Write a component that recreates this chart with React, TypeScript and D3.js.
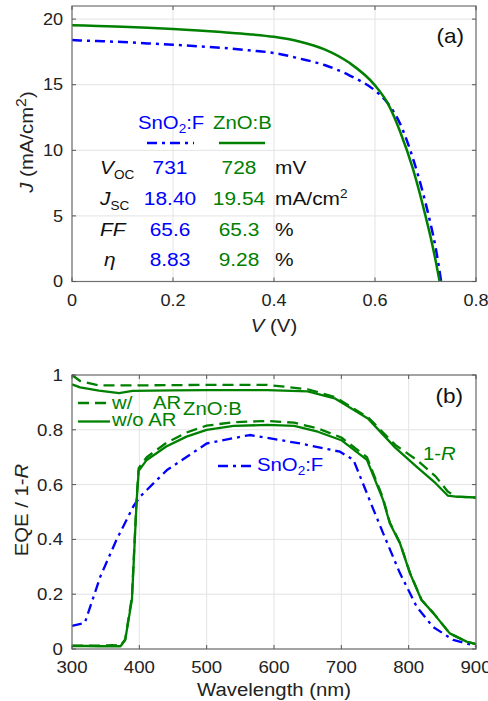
import { useEffect, useRef } from "react";
import * as d3 from "d3";

// panel (a): J-V curves
const jvVoltsZnO = [0, 0.05, 0.1, 0.15, 0.2, 0.25, 0.3, 0.35, 0.4, 0.45, 0.5, 0.55, 0.6, 0.625, 0.65, 0.675, 0.7, 0.71, 0.72, 0.728];
const jvCurrentZnO = [19.54, 19.48, 19.42, 19.34, 19.25, 19.14, 19.0, 18.85, 18.65, 18.3, 17.7, 16.65, 14.95, 13.6, 11.4, 8.6, 5.0, 3.4, 1.6, 0];
const jvVoltsSnO = [0, 0.05, 0.1, 0.15, 0.2, 0.25, 0.3, 0.35, 0.4, 0.45, 0.5, 0.55, 0.6, 0.625, 0.65, 0.675, 0.7, 0.71, 0.72, 0.731];
const jvCurrentSnO = [18.4, 18.33, 18.25, 18.15, 18.05, 17.93, 17.8, 17.62, 17.42, 17.0, 16.5, 15.7, 14.55, 13.6, 12.0, 9.4, 6.0, 4.4, 2.6, 0];

const tableRows = ["VOC", "JSC", "FF", "eta"];
const tableSnO = ["731", "18.40", "65.6", "8.83"];
const tableZnO = ["728", "19.54", "65.3", "9.28"];
const tableUnits = ["mV", "mA/cm²", "%", "%"];

// panel (b): EQE and 1-R
const rWave = [300, 312, 340, 370, 390, 450, 500, 590, 650, 690, 740, 780, 812, 840, 858, 870, 900];
const oneMinusRAR = [1.0, 0.978, 0.962, 0.962, 0.962, 0.963, 0.964, 0.964, 0.948, 0.92, 0.845, 0.745, 0.69, 0.63, 0.575, 0.556, 0.553];
const oneMinusRNoAR = [0.966, 0.955, 0.943, 0.934, 0.942, 0.944, 0.945, 0.945, 0.94, 0.915, 0.84, 0.735, 0.665, 0.605, 0.56, 0.556, 0.553];

const eqeWave = [300, 320, 340, 360, 372, 379, 389, 396, 399, 411, 440, 470, 500, 540, 590, 630, 665, 700, 738, 762, 772, 787, 802, 819, 837, 861, 886, 900];
const eqeZnONoAR = [0.011, 0.011, 0.01, 0.01, 0.01, 0.033, 0.18, 0.54, 0.65, 0.69, 0.739, 0.775, 0.8, 0.814, 0.818, 0.814, 0.793, 0.762, 0.69, 0.544, 0.459, 0.386, 0.276, 0.179, 0.13, 0.057, 0.027, 0.018];
const eqeZnOAR = [0.012, 0.012, 0.012, 0.014, 0.012, 0.035, 0.19, 0.55, 0.66, 0.7, 0.752, 0.79, 0.815, 0.828, 0.832, 0.826, 0.805, 0.772, 0.7, 0.55, 0.462, 0.388, 0.278, 0.18, 0.13, 0.057, 0.027, 0.018];

const eqeWaveSnO = [300, 319, 342, 366, 391, 401, 441, 500, 564, 639, 698, 718, 748, 762, 787, 812, 836, 866, 900];
const eqeSnO = [0.084, 0.095, 0.264, 0.398, 0.52, 0.556, 0.653, 0.75, 0.781, 0.75, 0.72, 0.69, 0.507, 0.423, 0.277, 0.154, 0.081, 0.033, 0.011];

const aTicksX = [0, 0.2, 0.4, 0.6, 0.8];
const aTicksY = [0, 5, 10, 15, 20];
const bTicksX = [300, 400, 500, 600, 700, 800, 900];
const bTicksY = [0, 0.2, 0.4, 0.6, 0.8, 1];

const GREEN = "#008000";
const BLUE = "#0000ff";
const FONT = "'Liberation Sans', Arial, sans-serif";
const DASHDOT = "10,5,3,5";
const DASH = "11,6";
const SX = 1.13; // the original's font is a bit wider than Arial

export default function App() {
  const ref = useRef<SVGSVGElement>(null);

  useEffect(() => {
    const svg = d3.select(ref.current);
    svg.selectAll("*").remove();

    const left = 72, right = 476;

    // text with a slight horizontal stretch
    const txt = (parent: any, x: number, y: number, size: number, anchor = "start", fill = "#222", rot = 0) =>
      parent.append("text")
        .attr("transform", `translate(${x},${y}) rotate(${rot}) scale(${SX},1)`)
        .attr("font-size", size).attr("font-family", FONT)
        .attr("text-anchor", anchor).attr("fill", fill);

    function grid(x: any, y: any, top: number, bottom: number, tx: number[], ty: number[]) {
      const g = svg.append("g");
      tx.forEach(t => g.append("line").attr("x1", x(t)).attr("x2", x(t)).attr("y1", top).attr("y2", bottom)
        .attr("stroke", "#e3e3e3").attr("stroke-width", 1));
      ty.forEach(t => g.append("line").attr("x1", left).attr("x2", right).attr("y1", y(t)).attr("y2", y(t))
        .attr("stroke", "#e3e3e3").attr("stroke-width", 1));
    }

    function box(x: any, y: any, top: number, bottom: number, tx: number[], ty: number[], fs: number, labelY: number) {
      const g = svg.append("g");
      g.append("rect").attr("x", left).attr("y", top).attr("width", right - left).attr("height", bottom - top)
        .attr("fill", "none").attr("stroke", "#707070").attr("stroke-width", 1.2);
      tx.forEach(t => {
        g.append("line").attr("x1", x(t)).attr("x2", x(t)).attr("y1", bottom).attr("y2", bottom - 4).attr("stroke", "#555");
        g.append("line").attr("x1", x(t)).attr("x2", x(t)).attr("y1", top).attr("y2", top + 4).attr("stroke", "#555");
        txt(g, x(t), labelY, fs, "middle").text(String(t));
      });
      ty.forEach(t => {
        g.append("line").attr("x1", left).attr("x2", left + 4).attr("y1", y(t)).attr("y2", y(t)).attr("stroke", "#555");
        g.append("line").attr("x1", right).attr("x2", right - 4).attr("y1", y(t)).attr("y2", y(t)).attr("stroke", "#555");
        txt(g, left - 9, y(t) + fs * 0.36, fs, "end").text(String(t));
      });
    }

    // ---------- panel (a) ----------
    const aTop = 6, aBottom = 281.5;
    const xa = d3.scaleLinear().domain([0, 0.8]).range([left, right]);
    const ya = d3.scaleLinear().domain([0, 21]).range([aBottom, aTop]);
    grid(xa, ya, aTop, aBottom, aTicksX, aTicksY);

    const lineA = d3.line<[number, number]>().x(d => xa(d[0])).y(d => ya(d[1])).curve(d3.curveMonotoneX);
    svg.append("path").attr("d", lineA(d3.zip(jvVoltsSnO, jvCurrentSnO) as [number, number][]))
      .attr("fill", "none").attr("stroke", BLUE).attr("stroke-width", 2.5).attr("stroke-dasharray", DASHDOT);
    svg.append("path").attr("d", lineA(d3.zip(jvVoltsZnO, jvCurrentZnO) as [number, number][]))
      .attr("fill", "none").attr("stroke", GREEN).attr("stroke-width", 2.5);

    box(xa, ya, aTop, aBottom, aTicksX, aTicksY, 16, 306);

    // table inside panel (a)
    const ta = svg.append("g");
    const sn = txt(ta, 138, 129, 18, "start", BLUE);
    sn.append("tspan").text("SnO");
    sn.append("tspan").attr("font-size", 12).attr("dy", 4).text("2");
    sn.append("tspan").attr("dy", -4).text(":F");
    txt(ta, 213, 129, 18, "start", GREEN).text("ZnO:B");
    ta.append("line").attr("x1", 147).attr("x2", 194).attr("y1", 143).attr("y2", 143)
      .attr("stroke", BLUE).attr("stroke-width", 2.5).attr("stroke-dasharray", DASHDOT);
    ta.append("line").attr("x1", 219).attr("x2", 265).attr("y1", 143).attr("y2", 143)
      .attr("stroke", GREEN).attr("stroke-width", 2.5);

    const rowY = [174, 205, 236, 266];
    tableRows.forEach((r, i) => {
      const t = txt(ta, r === "eta" ? 104 : 100, rowY[i], 18.5, "start", "#111");
      if (r === "VOC") {
        t.append("tspan").attr("font-style", "italic").text("V");
        t.append("tspan").attr("font-size", 12).attr("dy", 5).text("OC");
      } else if (r === "JSC") {
        t.append("tspan").attr("font-style", "italic").text("J");
        t.append("tspan").attr("font-size", 12).attr("dy", 5).text("SC");
      } else if (r === "FF") {
        t.append("tspan").attr("font-style", "italic").text("FF");
      } else {
        t.append("tspan").attr("font-style", "italic").text("η");
      }
      txt(ta, 170, rowY[i], 18.5, "middle", BLUE).text(tableSnO[i]);
      txt(ta, 239, rowY[i], 18.5, "middle", GREEN).text(tableZnO[i]);
      const u = txt(ta, 275, rowY[i], 18.5, "start", "#111");
      if (tableUnits[i] === "mA/cm²") {
        u.append("tspan").text("mA/cm");
        u.append("tspan").attr("font-size", 12).attr("dy", -7).text("2");
      } else {
        u.text(tableUnits[i]);
      }
    });

    txt(svg, 464, 43, 20, "end", "#111").text("(a)");

    const yla = txt(svg, 33, 142, 18, "middle", "#222", -90);
    yla.append("tspan").attr("font-style", "italic").text("J");
    yla.append("tspan").text(" (mA/cm");
    yla.append("tspan").attr("font-size", 14).attr("dy", -7).text("2");
    yla.append("tspan").attr("dy", 7).text(")");

    const xla = txt(svg, (left + right) / 2, 332, 18, "middle");
    xla.append("tspan").attr("font-style", "italic").text("V");
    xla.append("tspan").text(" (V)");

    // ---------- panel (b) ----------
    const bTop = 375, bBottom = 649;
    const xb = d3.scaleLinear().domain([300, 900]).range([left, right]);
    const yb = d3.scaleLinear().domain([0, 1]).range([bBottom, bTop]);
    grid(xb, yb, bTop, bBottom, bTicksX, bTicksY);

    const lineB = d3.line<[number, number]>().x(d => xb(d[0])).y(d => yb(d[1]));
    const drawB = (xs: number[], ys: number[], color: string, dash: string | null) => {
      const p = svg.append("path").attr("d", lineB(d3.zip(xs, ys) as [number, number][]))
        .attr("fill", "none").attr("stroke", color).attr("stroke-width", 2.3).attr("stroke-linejoin", "round");
      if (dash) p.attr("stroke-dasharray", dash);
    };
    drawB(rWave, oneMinusRAR, GREEN, DASH);
    drawB(rWave, oneMinusRNoAR, GREEN, null);
    drawB(eqeWaveSnO, eqeSnO, BLUE, DASHDOT);
    drawB(eqeWave, eqeZnOAR, GREEN, DASH);
    drawB(eqeWave, eqeZnONoAR, GREEN, null);

    box(xb, yb, bTop, bBottom, bTicksX, bTicksY, 16.5, 673);

    const lb = svg.append("g");
    lb.append("line").attr("x1", 78).attr("x2", 110).attr("y1", 403).attr("y2", 403)
      .attr("stroke", GREEN).attr("stroke-width", 2.3).attr("stroke-dasharray", DASH);
    txt(lb, 112, 409, 18, "start", GREEN).text("w/");
    txt(lb, 153, 409, 18, "start", GREEN).text("AR");
    lb.append("line").attr("x1", 78).attr("x2", 110).attr("y1", 421.5).attr("y2", 421.5)
      .attr("stroke", GREEN).attr("stroke-width", 2.3);
    txt(lb, 112, 426, 18, "start", GREEN).text("w/o AR");
    txt(lb, 183, 415, 18, "start", GREEN).text("ZnO:B");

    const oneR = txt(lb, 423, 460, 18, "start", GREEN);
    oneR.append("tspan").text("1-");
    oneR.append("tspan").attr("font-style", "italic").text("R");

    lb.append("line").attr("x1", 218).attr("x2", 254).attr("y1", 466).attr("y2", 466)
      .attr("stroke", BLUE).attr("stroke-width", 2.5).attr("stroke-dasharray", DASHDOT);
    const snb = txt(lb, 257, 471, 18, "start", BLUE);
    snb.append("tspan").text("SnO");
    snb.append("tspan").attr("font-size", 12).attr("dy", 4).text("2");
    snb.append("tspan").attr("dy", -4).text(":F");

    txt(svg, 463, 403, 20, "end", "#111").text("(b)");

    const ylb = txt(svg, 28, 510, 18, "middle", "#222", -90);
    ylb.append("tspan").text("EQE / 1-");
    ylb.append("tspan").attr("font-style", "italic").text("R");

    txt(svg, (left + right) / 2, 696, 18, "middle").text("Wavelength (nm)");
  }, []);

  return (
    <div style={{ position: "absolute", left: 0, top: 0 }}>
      <svg ref={ref} width={488} height={701} style={{ display: "block", background: "#fff" }} />
    </div>
  );
}
